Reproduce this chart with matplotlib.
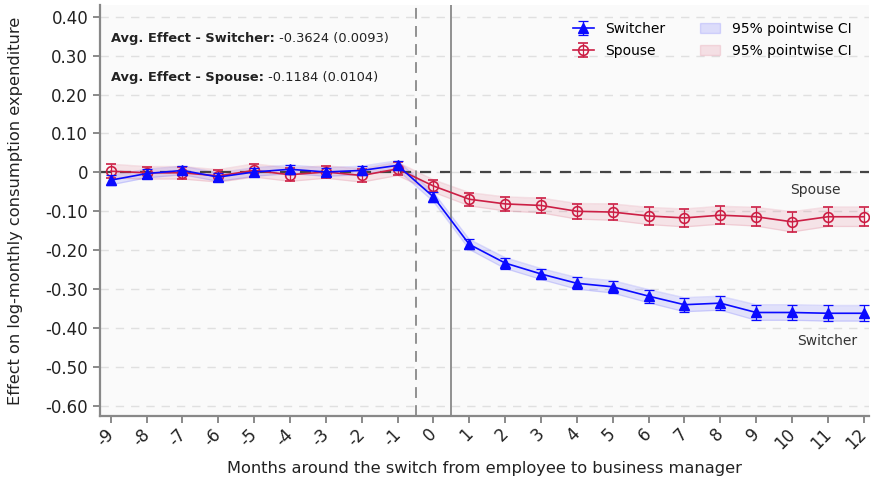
import numpy as np
import matplotlib
matplotlib.use("Agg")
import matplotlib.pyplot as plt
import matplotlib.transforms as mtransforms
from matplotlib.patches import Patch

# Event-time months relative to the switch
months = list(range(-9, 13))

# Point estimates
switcher = [-0.020, -0.003, 0.005, -0.012, 0.001, 0.008, 0.001, 0.005, 0.018,
            -0.063, -0.185, -0.233, -0.261, -0.285, -0.294, -0.318, -0.340,
            -0.336, -0.360, -0.360, -0.362, -0.362]
spouse = [0.003, -0.001, -0.001, -0.009, 0.005, -0.006, 0.001, -0.008, 0.009,
          -0.035, -0.069, -0.081, -0.085, -0.100, -0.102, -0.112, -0.117,
          -0.110, -0.114, -0.127, -0.114, -0.114]

# Half-widths of the 95% pointwise confidence intervals
switcher_ci = [0.012, 0.011, 0.011, 0.011, 0.011, 0.011, 0.011, 0.011, 0.012,
               0.012, 0.013, 0.014, 0.014, 0.015, 0.016, 0.017, 0.018,
               0.018, 0.020, 0.020, 0.020, 0.020]
spouse_ci = [0.018, 0.016, 0.016, 0.016, 0.017, 0.017, 0.016, 0.017, 0.017,
             0.016, 0.017, 0.018, 0.019, 0.020, 0.021, 0.022, 0.023,
             0.023, 0.024, 0.026, 0.025, 0.025]

xtick_labels = [str(m) for m in months]
yticks = [0.4, 0.3, 0.2, 0.1, 0.0, -0.1, -0.2, -0.3, -0.4, -0.5, -0.6]
ytick_labels = ["0.40", "0.30", "0.20", "0.10", "0", "-0.10", "-0.20",
                "-0.30", "-0.40", "-0.50", "-0.60"]

blue = "#0a0aff"
red = "#cc1f45"

fig = plt.figure(figsize=(8.71, 4.79), dpi=100)
ax = fig.add_axes([0.1148, 0.1315, 0.883, 0.858])
ax.set_facecolor("#fafafa")

x = np.array(months)
sw = np.array(switcher)
sp = np.array(spouse)
swc = np.array(switcher_ci)
spc = np.array(spouse_ci)

# Grid
for yv in yticks:
    ax.axhline(yv, color="#e0e0e0", lw=1.0, ls=(0, (6, 5)), zorder=0)

# Confidence bands
ax.fill_between(x, sw - swc, sw + swc, color=blue, alpha=0.10, lw=0, zorder=1)
ax.plot(x, sw - swc, color=blue, alpha=0.12, lw=1, zorder=1)
ax.plot(x, sw + swc, color=blue, alpha=0.12, lw=1, zorder=1)
ax.fill_between(x, sp - spc, sp + spc, color=red, alpha=0.10, lw=0, zorder=1)
ax.plot(x, sp - spc, color=red, alpha=0.12, lw=1, zorder=1)
ax.plot(x, sp + spc, color=red, alpha=0.12, lw=1, zorder=1)

# Reference lines
ax.axhline(0, color="#444444", lw=1.6, ls=(0, (5, 4)), zorder=2)
ax.axvline(-0.5, color="#888888", lw=1.3, ls=(0, (6, 4)), zorder=2)
ax.axvline(0.5, color="#888888", lw=1.3, zorder=2)

# Series
h_sw = ax.errorbar(x, sw, yerr=swc, color=blue, marker="^", ms=7, lw=1.2,
                   elinewidth=0.9, capsize=3.5, capthick=0.9, zorder=4)
h_sp = ax.errorbar(x, sp, yerr=spc, color=red, marker="o", ms=7, mfc="none",
                   mew=1.2, lw=1.2, elinewidth=0.9, capsize=3.5, capthick=0.9,
                   zorder=3)

ax.set_xlim(-9.3, 12.15)
ax.set_ylim(-0.626, 0.43)
ax.set_yticks(yticks)
ax.set_yticklabels(ytick_labels, fontsize=12)
ax.tick_params(axis="both", colors="#777777", length=5, width=1.2,
               labelcolor="#222222")
ax.tick_params(axis="x", pad=1.5)
ax.set_xticks(months)
ax.set_xticklabels(xtick_labels, rotation=45, ha="right",
                   rotation_mode="anchor", fontsize=12)
# nudge the rotated month labels slightly left of their ticks
shift = mtransforms.ScaledTranslation(-6 / 100, 0, fig.dpi_scale_trans)
for lab in ax.get_xticklabels():
    lab.set_transform(lab.get_transform() + shift)

for side in ("top", "right"):
    ax.spines[side].set_visible(False)
for side in ("left", "bottom"):
    ax.spines[side].set_color("#888888")
    ax.spines[side].set_linewidth(1.6)

ax.set_xlabel("Months around the switch from employee to business manager",
              fontsize=11.7, color="#222222", labelpad=6)
ax.set_ylabel("Effect on log-monthly consumption expenditure",
              fontsize=11.7, color="#222222", labelpad=16)

# Average effect annotations
t1 = ax.text(-9.0, 0.344, "Avg. Effect - Switcher:", fontsize=9.4,
             fontweight="bold", color="#222222", va="center")
ax.annotate(" -0.3624 (0.0093)", xy=(1, 0.5), xycoords=t1, va="center",
            fontsize=9.4, color="#222222")
t2 = ax.text(-9.0, 0.245, "Avg. Effect - Spouse:", fontsize=9.4,
             fontweight="bold", color="#222222", va="center")
ax.annotate(" -0.1184 (0.0104)", xy=(1, 0.5), xycoords=t2, va="center",
            fontsize=9.4, color="#222222")

# Series labels
ax.text(10.64, -0.045, "Spouse", fontsize=10, color="#333333", ha="center",
        va="center")
ax.text(10.97, -0.434, "Switcher", fontsize=10, color="#333333", ha="center",
        va="center")

handles = [h_sw, h_sp,
           Patch(facecolor=blue, alpha=0.12, edgecolor=blue),
           Patch(facecolor=red, alpha=0.12, edgecolor=red)]
labels = ["Switcher", "Spouse", "95% pointwise CI", "95% pointwise CI"]
leg = ax.legend(handles, labels, loc="upper right", ncol=2, frameon=False,
                fontsize=10, bbox_to_anchor=(0.993, 0.99), columnspacing=2.5,
                handlelength=1.5, labelspacing=0.6)

fig.savefig("out.png", dpi=100)
